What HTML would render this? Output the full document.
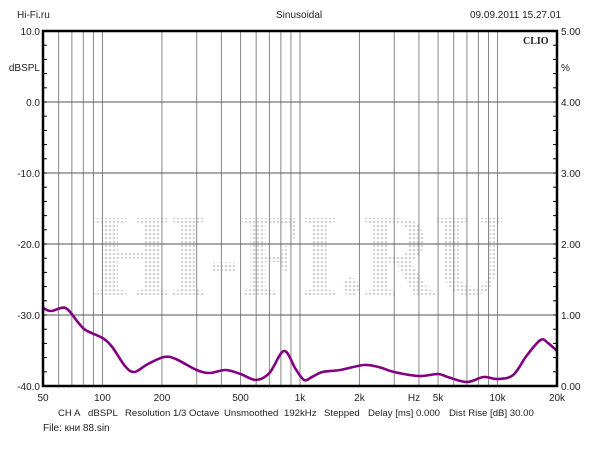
<!DOCTYPE html>
<html><head><meta charset="utf-8"><style>
body{margin:0;background:#fff;}
svg text{font-family:"Liberation Sans","Noto Sans CJK JP",sans-serif;font-size:10px;fill:#222;}
svg text.b{font-size:9.6px;}
</style></head><body>
<svg id="s" width="600" height="450" xmlns="http://www.w3.org/2000/svg">
<defs><pattern id="dots" width="4" height="4" patternUnits="userSpaceOnUse"><circle cx="2" cy="2" r="1.3" fill="#d4d4d4"/></pattern></defs>
<rect width="600" height="450" fill="#fff"/>
<text x="17" y="18" style="font-size:10px">Hi-Fi.ru</text>
<text x="276" y="18">Sinusoidal</text>
<text x="470" y="18">09.09.2011 15.27.01</text>
<text x="93" y="295" textLength="412" lengthAdjust="spacingAndGlyphs" style="font-family:'Liberation Serif',serif;font-weight:bold;font-size:118px;fill:url(#dots)">HI-FI.RU</text>
<g id="grid"></g>
<path id="curve" fill="none" stroke="#800080" stroke-width="2.6" stroke-linejoin="round"/>
<rect x="43" y="31" width="514" height="355" fill="none" stroke="#000" stroke-width="2.5"/>
<text x="523" y="44" style="font-family:'Liberation Serif',serif;font-weight:bold;font-size:10px">CLIO</text>
<g id="lab"></g>
<text class="b" x="58" y="416">CH A</text>
<text class="b" x="88" y="416">dBSPL</text>
<text class="b" x="125" y="416">Resolution 1/3 Octave</text>
<text class="b" x="224" y="416">Unsmoothed</text>
<text class="b" x="284" y="416">192kHz</text>
<text class="b" x="324" y="416">Stepped</text>
<text class="b" x="368" y="416">Delay [ms] 0.000</text>
<text class="b" x="449" y="416">Dist Rise [dB] 30.00</text>
<text x="43" y="431">File: кни 88.sin</text>
</svg>
<script>
const L=43,R=557,T=31,B=386,D=(R-L)/Math.log10(400);
const X=f=>L+D*Math.log10(f/50);
let g='';
const fs=[];for(const d of [10,100,1000,10000])for(let k=1;k<10;k++){const f=k*d;if(f>50&&f<20000)fs.push(f);}
for(const f of fs){const x=X(f);g+=`<line x1="${x}" y1="${T}" x2="${x}" y2="${B}" stroke="#888" stroke-width="1"/>`;}
for(let i=1;i<5;i++){const y=T+i*71;g+=`<line x1="${L}" y1="${y}" x2="${R}" y2="${y}" stroke="#555" stroke-width="1"/>`;}
for(let i=0;i<=25;i++){const y=T+i*14.2;g+=`<line x1="${L}" y1="${y}" x2="${L+4}" y2="${y}" stroke="#000"/><line x1="${R-4}" y1="${y}" x2="${R}" y2="${y}" stroke="#000"/>`;}
document.getElementById('grid').innerHTML=g;
let lb='';const ll=['10.0','0.0','-10.0','-20.0','-30.0','-40.0'],rl=['5.00','4.00','3.00','2.00','1.00','0.00'];
for(let i=0;i<6;i++){const y=T+i*71+4;lb+=`<text x="40" y="${y}" text-anchor="end">${ll[i]}</text><text x="561" y="${y}">${rl[i]}</text>`;}
lb+=`<text x="40" y="71" text-anchor="end">dBSPL</text><text x="561" y="71">%</text>`;
const xl=[[50,'50'],[100,'100'],[200,'200'],[500,'500'],[1000,'1k'],[2000,'2k'],[5000,'5k'],[10000,'10k'],[20000,'20k']];
for(const [f,t] of xl)lb+=`<text x="${X(f)}" y="401" text-anchor="middle">${t}</text>`;
lb+=`<text x="414" y="401" text-anchor="middle">Hz</text>`;
document.getElementById('lab').innerHTML=lb;
const P=[[50,308],[55,311],[65,308],[75,322],[82,330],[100,338],[112,347],[130,366],[145,372],[170,364],[205,357],[235,359],[300,370],[350,373],[420,370],[500,374],[600,380],[700,373],[830,351],[950,369],[1050,380],[1150,377],[1300,372],[1600,370],[2100,365],[2500,367],[3000,372],[4000,376],[5000,374],[5600,377],[7000,382],[8500,377],[10000,379],[12000,375],[14000,356],[16500,340],[18000,343],[20000,351]].map(p=>[X(p[0]),p[1]]);
let d=`M${P[0][0]},${P[0][1]}`;
for(let i=0;i<P.length-1;i++){const p0=P[Math.max(0,i-1)],p1=P[i],p2=P[i+1],p3=P[Math.min(P.length-1,i+2)];
d+=` C${p1[0]+(p2[0]-p0[0])/6},${p1[1]+(p2[1]-p0[1])/6} ${p2[0]-(p3[0]-p1[0])/6},${p2[1]-(p3[1]-p1[1])/6} ${p2[0]},${p2[1]}`;}
document.getElementById('curve').setAttribute('d',d);
</script>
</body></html>
